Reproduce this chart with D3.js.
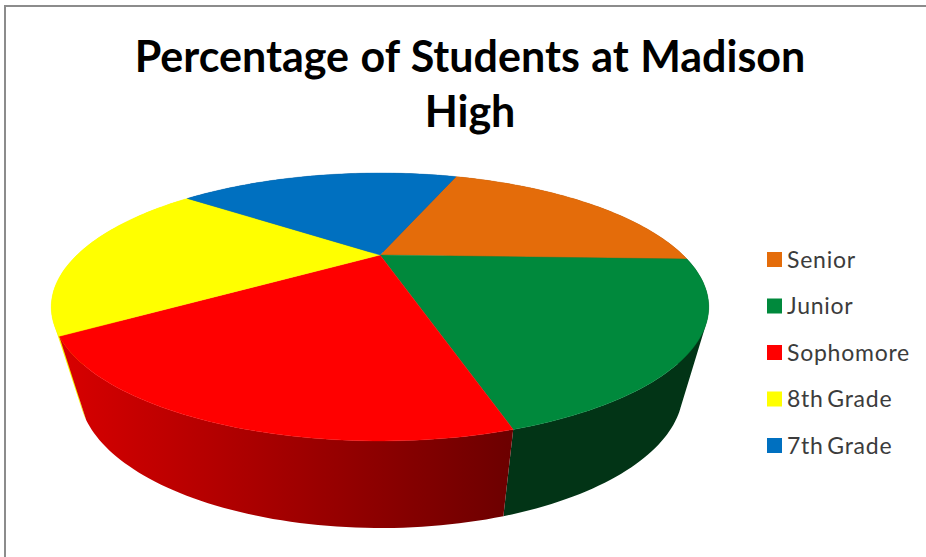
<!DOCTYPE html>
<html>
<head>
<meta charset="utf-8">
<title>Percentage of Students at Madison High</title>
<script src="https://cdn.jsdelivr.net/npm/d3@7"></script>
<style>
  html, body { margin: 0; padding: 0; background: #fff; }
  svg { display: block; }
  .title { font-family: Lato, "Open Sans", sans-serif; font-weight: 700; font-size: 43px; word-spacing: 1px; fill: #000; text-anchor: middle; }
  .legend text { font-family: Lato, "Open Sans", sans-serif; font-size: 23px; fill: #3c3c3c; letter-spacing: 0.75px; word-spacing: -3px; }
</style>
</head>
<body>
<div id="chart"></div>
<script>
var titleLines = ["Percentage of Students at Madison", "High"];
var grades = ["Senior", "Junior", "Sophomore", "8th Grade", "7th Grade"];
var percents = [20, 20, 20, 20, 20];
var topColors = ["#E46C0A", "#00893C", "#FF0000", "#FFFF00", "#0070C0"];
var wallFrom = ["#8a4406", "#023416", "#d80000", "#f4f400", "#00406e"];
var wallTo = ["#8a4406", "#023416", "#6c0000", "#f4f400", "#00406e"];

var width = 926, height = 557;

var svg = d3.select("#chart")
    .append("svg")
    .attr("width", width)
    .attr("height", height);

// window frame, only top and left show in the shot
svg.append("path")
    .attr("d", "M5,557V6H926")
    .attr("fill", "none")
    .attr("stroke", "#8c8c8c")
    .attr("stroke-width", 2);

var title = svg.append("g");
title.selectAll("text")
    .data(titleLines)
    .enter().append("text")
    .attr("class", "title")
    .attr("x", 470)
    .attr("y", function(d, i) { return 72 + i * 55; })
    .text(function(d) { return d; });

// tilted disc, far side shrinks. top rim and bottom rim get separate origins
var persp = 0.388;
var topDisc = { cx: 380, cy: 255, b: 303, a: 113.8 };
var baseDisc = { cx: 381, cy: 336.5, b: 278.4, a: 117.2 };

function project(disc, angle) {
    var u = Math.sin(angle), v = Math.cos(angle), w = 1 + persp * v;
    return [disc.cx + disc.b * u / w, disc.cy - disc.a * v / w];
}

var pie = d3.pie()
    .sort(null)
    .startAngle(20 * Math.PI / 180)
    .endAngle(380 * Math.PI / 180);

var slices = pie(percents);

function rim(disc, d) {
    var n = 60;
    return d3.range(n + 1).map(function(i) {
        return project(disc, d.startAngle + (d.endAngle - d.startAngle) * i / n);
    });
}

var line = d3.line().curve(d3.curveLinear);

var defs = svg.append("defs");
var grad = defs.selectAll("linearGradient")
    .data(slices)
    .enter().append("linearGradient")
    .attr("id", function(d, i) { return "wall" + i; })
    .attr("gradientUnits", "userSpaceOnUse")
    .attr("x1", function(d, i) { return i == 2 ? 60 : 500; })
    .attr("x2", function(d, i) { return i == 2 ? 512 : 710; })
    .attr("y1", 0)
    .attr("y2", 0);
grad.append("stop").attr("offset", "0").attr("stop-color", function(d, i) { return wallFrom[i]; });
grad.append("stop").attr("offset", "1").attr("stop-color", function(d, i) { return wallTo[i]; });

// wall as one hull per rim step, so the silhouette between the two rims gets filled
function wallPath(d) {
    var t = rim(topDisc, d), b = rim(baseDisc, d);
    return d3.range(t.length - 1).map(function(k) {
        return line(d3.polygonHull([t[k], t[k + 1], b[k + 1], b[k]])) + "Z";
    }).join("");
}

// back to front: the walls overlap at the silhouette
var wallOrder = [4, 0, 3, 1, 2];

svg.append("g").selectAll("path")
    .data(wallOrder)
    .enter().append("path")
    .attr("fill", function(i) { return "url(#wall" + i + ")"; })
    .attr("d", function(i) { return wallPath(slices[i]); });

svg.append("g").selectAll("path")
    .data(slices)
    .enter().append("path")
    .attr("fill", function(d, i) { return topColors[i]; })
    .attr("stroke", function(d, i) { return topColors[i]; })
    .attr("stroke-width", 0.4)
    .attr("d", function(d) {
        return line([[topDisc.cx, topDisc.cy]].concat(rim(topDisc, d))) + "Z";
    });

var y = d3.scalePoint().domain(grades).range([259.5, 445.5]);

var legend = svg.append("g")
    .attr("class", "legend")
    .selectAll("g")
    .data(grades)
    .enter().append("g")
    .attr("transform", function(d) { return "translate(767," + y(d) + ")"; });

legend.append("rect")
    .attr("y", -7.5)
    .attr("width", 15)
    .attr("height", 15)
    .attr("fill", function(d, i) { return topColors[i]; });

legend.append("text")
    .attr("x", 20)
    .attr("y", 8)
    .text(function(d) { return d; });
</script>
</body>
</html>
